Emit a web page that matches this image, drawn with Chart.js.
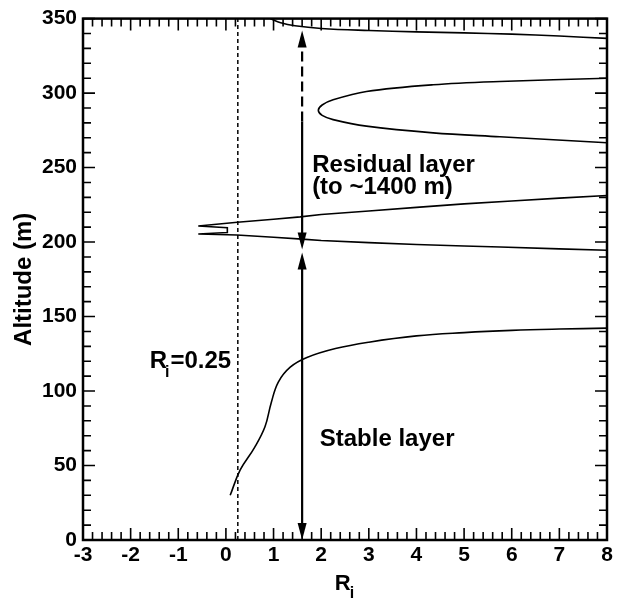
<!DOCTYPE html>
<html>
<head>
<meta charset="utf-8">
<script src="https://cdn.jsdelivr.net/npm/chart.js@4.4.1/dist/chart.umd.min.js"></script>
<style>
  html, body { margin: 0; padding: 0; background: #fff; }
  canvas { display: block; }
</style>
</head>
<body>
<canvas id="riChart" width="617" height="601"></canvas>
<script>
// Axis limits
const riRange = [-3, 8];
const altRange = [0, 350];

// Stable layer profile (lower curve)
const stableRi  = [0.09, 0.3, 0.6, 0.82, 0.95, 1.1, 1.35, 1.7, 2.3, 3.0, 4.0, 5.0, 6.0, 7.0, 8.0];
const stableAlt = [30, 47, 62, 76, 92, 106, 116, 122.5, 128.5, 132.8, 137, 139.2, 140.7, 141.6, 142.2];

// Wedge near 200-230 m (upper branch, notch, lower branch)
const wedgeRi  = [8, 7, 6, 5, 4, 3, 2, 1.56, 1, 0.24, -0.58, 0.03, 0.03, -0.58, 0.23, 1, 1.6, 2, 3, 4, 5, 5.76, 7, 8];
const wedgeAlt = [231.3, 229.5, 227.6, 225.6, 223.3, 220.8, 218.5, 216.9, 215.3, 213.3, 210.8, 209.6, 206.4, 205.4, 204.7, 203.2, 202, 201, 199.6, 198.4, 197.4, 196.7, 195.4, 194.5];

// Loop near 290 m
const loopRi  = [8, 5.75, 4.35, 2.95, 2.25, 2.02, 1.94, 2.02, 2.25, 2.95, 4.35, 5.75, 8];
const loopAlt = [310, 307.8, 305.6, 301.1, 295.5, 292, 288.4, 285, 282.2, 277.8, 273.3, 270.7, 266.7];

// Top curve
const topRi  = [0.93, 1.15, 1.45, 2, 3, 4, 5, 6, 7, 8];
const topAlt = [350, 347.2, 345.2, 343.4, 342, 341.1, 340.4, 339.6, 338.3, 336.7];

// Critical Richardson number line
const criticalRi = 0.25;

// Layer arrows
const arrowRi = 1.6;
const stableArrowAlt = [0, 193];
const residualArrowAlt = [195, 281, 342];

function pts(xs, ys) {
    return xs.map((x, i) => ({ x: x, y: ys[i] }));
}

const fontFamily = '"Liberation Sans", Arial, sans-serif';
const curveStyle = { showLine: true, borderColor: '#000', borderWidth: 1.6, pointRadius: 0, fill: false };

// Inward ticks, frame, arrowheads and labels
const decorPlugin = {
    id: 'decor',
    afterDatasetsDraw(chart) {
        const ctx = chart.ctx;
        const xs = chart.scales.x;
        const ys = chart.scales.y;
        const a = chart.chartArea;
        ctx.save();
        ctx.strokeStyle = '#000';
        ctx.fillStyle = '#000';

        // ticks on four sides
        ctx.lineWidth = 1.6;
        ctx.beginPath();
        for (let i = 0; i <= 55; i++) {
            const px = xs.getPixelForValue(riRange[0] + i * 0.2);
            const len = (i % 5 === 0) ? 12 : 8;
            ctx.moveTo(px, a.bottom); ctx.lineTo(px, a.bottom - len);
            ctx.moveTo(px, a.top); ctx.lineTo(px, a.top + len);
        }
        for (let i = 0; i <= 35; i++) {
            const py = ys.getPixelForValue(altRange[0] + i * 10);
            const len = (i % 5 === 0) ? 12 : 8;
            ctx.moveTo(a.left, py); ctx.lineTo(a.left + len, py);
            ctx.moveTo(a.right, py); ctx.lineTo(a.right - len, py);
        }
        ctx.stroke();

        // frame
        ctx.lineWidth = 2.5;
        ctx.strokeRect(a.left, a.top, a.right - a.left, a.bottom - a.top);

        // arrowheads
        function head(v, alt, dir) {
            const px = xs.getPixelForValue(v);
            const py = ys.getPixelForValue(alt);
            ctx.beginPath();
            ctx.moveTo(px, py);
            ctx.lineTo(px - 4.5, py - dir * 17);
            ctx.lineTo(px + 4.5, py - dir * 17);
            ctx.closePath();
            ctx.fill();
        }
        head(arrowRi, stableArrowAlt[0], 1);
        head(arrowRi, stableArrowAlt[1], -1);
        head(arrowRi, residualArrowAlt[0], 1);
        head(arrowRi, residualArrowAlt[2], -1);

        // text labels
        ctx.textBaseline = 'alphabetic';
        ctx.textAlign = 'left';
        const big = 'bold 24px ' + fontFamily;
        const sub = 'bold 16px ' + fontFamily;
        ctx.font = big;
        ctx.fillText('Residual layer', xs.getPixelForValue(1.81), ys.getPixelForValue(247.3));
        ctx.fillText('(to ~1400 m)', xs.getPixelForValue(1.81), ys.getPixelForValue(232));
        ctx.fillText('Stable layer', xs.getPixelForValue(1.97), ys.getPixelForValue(63.3));

        // R_i=0.25
        let x0 = xs.getPixelForValue(-1.6);
        const y0 = ys.getPixelForValue(115.6);
        ctx.fillText('R', x0, y0);
        x0 += ctx.measureText('R').width - 2;
        ctx.font = sub;
        ctx.fillText('i', x0, y0 + 9);
        x0 += ctx.measureText('i').width + 1;
        ctx.font = big;
        ctx.fillText('=0.25', x0, y0);

        // x axis title R_i
        ctx.font = 'bold 22px ' + fontFamily;
        const rw = ctx.measureText('R').width;
        ctx.font = sub;
        const iw = ctx.measureText('i').width;
        const tx = (a.left + a.right) / 2 - (rw + iw) / 2;
        ctx.font = 'bold 22px ' + fontFamily;
        ctx.fillText('R', tx, 590);
        ctx.font = sub;
        ctx.fillText('i', tx + rw - 1, 598);

        ctx.restore();
    }
};

new Chart(document.getElementById('riChart'), {
    type: 'scatter',
    data: {
        datasets: [
            Object.assign({ data: pts(stableRi, stableAlt), tension: 0.4 }, curveStyle),
            Object.assign({ data: pts(wedgeRi, wedgeAlt), tension: 0 }, curveStyle),
            Object.assign({ data: pts(loopRi, loopAlt), tension: 0.35 }, curveStyle),
            Object.assign({ data: pts(topRi, topAlt), tension: 0.4 }, curveStyle),
            {
                data: [{ x: criticalRi, y: altRange[0] }, { x: criticalRi, y: altRange[1] }],
                showLine: true, borderColor: '#000', borderWidth: 1.5, borderDash: [4, 3], pointRadius: 0
            },
            {
                data: [{ x: arrowRi, y: stableArrowAlt[0] + 5 }, { x: arrowRi, y: stableArrowAlt[1] - 5 }],
                showLine: true, borderColor: '#000', borderWidth: 2.2, pointRadius: 0
            },
            {
                data: [{ x: arrowRi, y: residualArrowAlt[0] + 5 }, { x: arrowRi, y: residualArrowAlt[1] }],
                showLine: true, borderColor: '#000', borderWidth: 2.2, pointRadius: 0
            },
            {
                data: [{ x: arrowRi, y: residualArrowAlt[1] }, { x: arrowRi, y: residualArrowAlt[2] - 5 }],
                showLine: true, borderColor: '#000', borderWidth: 2.2, borderDash: [10, 5], pointRadius: 0
            }
        ]
    },
    options: {
        responsive: false,
        animation: false,
        layout: { padding: { top: 15, right: 10, left: 0, bottom: 0 } },
        plugins: { legend: { display: false }, tooltip: { enabled: false } },
        scales: {
            x: {
                type: 'linear',
                min: riRange[0],
                max: riRange[1],
                grid: { display: false, drawTicks: false },
                border: { display: false },
                ticks: {
                    stepSize: 1,
                    color: '#000',
                    padding: 3,
                    font: { family: fontFamily, size: 21, weight: 'bold' }
                },
                afterFit(scale) { scale.height = 61; }
            },
            y: {
                type: 'linear',
                min: altRange[0],
                max: altRange[1],
                grid: { display: false, drawTicks: false },
                border: { display: false },
                ticks: {
                    stepSize: 50,
                    color: '#000',
                    padding: 6,
                    font: { family: fontFamily, size: 21, weight: 'bold' }
                },
                title: {
                    display: true,
                    text: 'Altitude (m)',
                    color: '#000',
                    padding: { top: 10, bottom: 0 },
                    font: { family: fontFamily, size: 24, weight: 'bold' }
                },
                afterFit(scale) { scale.width = 83; }
            }
        }
    },
    plugins: [decorPlugin]
});
</script>
</body>
</html>
